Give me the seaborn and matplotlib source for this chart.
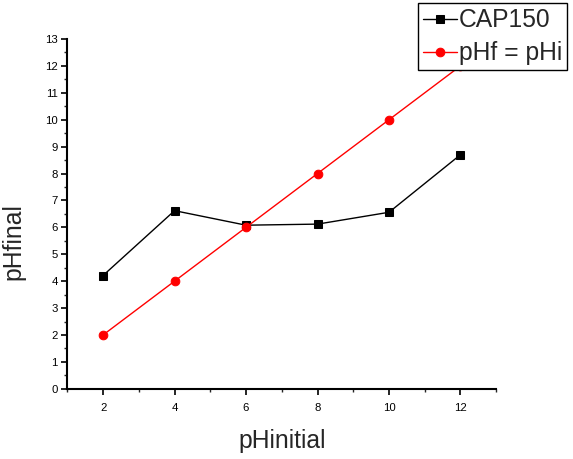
import numpy as np
import pandas as pd
import matplotlib
matplotlib.use("Agg")
import matplotlib.pyplot as plt
import seaborn as sns
from matplotlib.ticker import MultipleLocator

ph_initial = [2, 4, 6, 8, 10, 12]
cap150 = [4.21, 6.62, 6.08, 6.12, 6.56, 8.70]
ph_equal = [2, 4, 6, 8, 10, 12]
x_ticks = [2, 4, 6, 8, 10, 12]
y_ticks = list(range(0, 14))

sns.set_style("ticks")
plt.rcParams['font.family'] = ['Liberation Sans', 'DejaVu Sans']

df_cap = pd.DataFrame({"x": ph_initial, "y": cap150})
df_eq = pd.DataFrame({"x": ph_initial, "y": ph_equal})

fig = plt.figure(figsize=(5.73, 4.59), dpi=100)
ax = fig.add_axes([0.1175, 0.153, 0.7485, 0.762])

sns.lineplot(data=df_cap, x="x", y="y", ax=ax, color="black", marker="s",
             markersize=5.3, markeredgecolor="black", linewidth=1.0,
             label="CAP150", zorder=2)
sns.lineplot(data=df_eq, x="x", y="y", ax=ax, color="#ff0000", marker="o",
             markersize=6.2, markeredgecolor="#ff0000", linewidth=1.0,
             label="pHf = pHi", zorder=3)

ax.set_xlim(1, 13)
ax.set_ylim(0, 13)
ax.set_xticks(x_ticks)
ax.set_yticks(y_ticks)
ax.xaxis.set_minor_locator(MultipleLocator(1))
ax.yaxis.set_minor_locator(MultipleLocator(0.5))
ax.tick_params(axis="both", which="major", direction="out", length=4, width=1.2,
               labelsize=8.2, colors="black", pad=3)
ax.tick_params(axis="x", which="major", pad=6)
ax.tick_params(axis="both", which="minor", direction="out", length=2.5, width=1.0)

for side in ["top", "right"]:
    ax.spines[side].set_visible(False)
for side in ["left", "bottom"]:
    ax.spines[side].set_linewidth(1.5)
    ax.spines[side].set_color("black")

ax.set_xlabel("pHinitial", fontsize=17.8)
ax.set_ylabel("pHfinal", fontsize=17.8)
ax.xaxis.set_label_coords(0.5, -0.115)
ax.yaxis.set_label_coords(-0.098, 0.42)

leg = ax.legend(loc="upper right", bbox_to_anchor=(0.989, 0.993),
                bbox_transform=fig.transFigure, fontsize=17.7,
                frameon=True, fancybox=False, framealpha=1,
                edgecolor="black", handlelength=1.4, handletextpad=0.05,
                labelspacing=0.38, borderpad=0.2, borderaxespad=0)
leg.get_frame().set_linewidth(1.0)
leg.set_zorder(10)

fig.savefig("out.png", dpi=100)
